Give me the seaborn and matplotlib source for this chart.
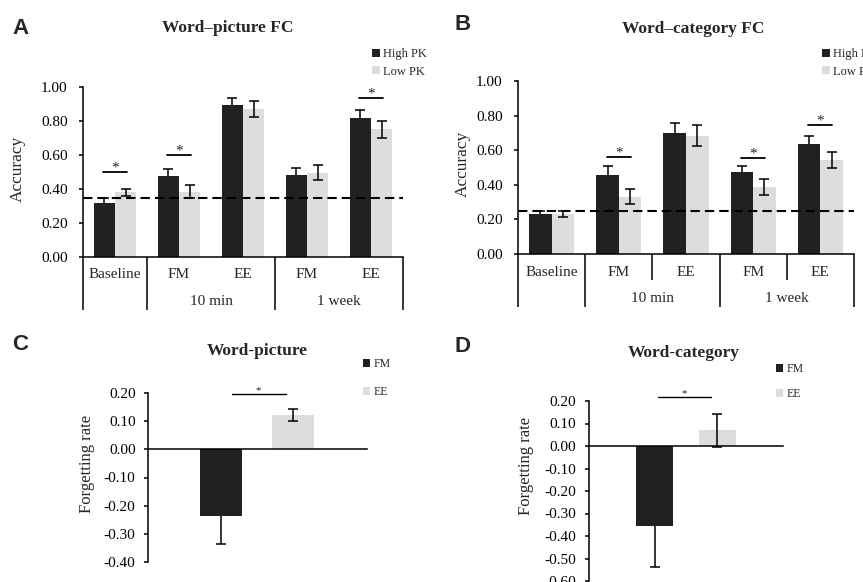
import matplotlib
matplotlib.use("Agg")
import pandas as pd
import matplotlib.pyplot as plt
import seaborn as sns

# Accuracy panels (A, B)
conditions = ["Baseline", "FM 10 min", "EE 10 min", "FM 1 week", "EE 1 week"]
condition_labels = ["Baseline", "FM", "EE", "FM", "EE"]
delay_labels = ["10 min", "1 week"]
pk_groups = ["High PK", "Low PK"]

wp_high = [0.32, 0.475, 0.895, 0.48, 0.82]
wp_high_se = [0.03, 0.045, 0.04, 0.045, 0.047]
wp_low = [0.38, 0.383, 0.87, 0.496, 0.75]
wp_low_se = [0.021, 0.038, 0.048, 0.046, 0.051]
wp_chance = 0.35
wp_sig = {0: 0.50, 1: 0.60, 4: 0.935}

wc_high = [0.231, 0.457, 0.70, 0.476, 0.636]
wc_high_se = [0.02, 0.05, 0.058, 0.035, 0.048]
wc_low = [0.232, 0.332, 0.684, 0.388, 0.545]
wc_low_se = [0.017, 0.045, 0.06, 0.046, 0.046]
wc_chance = 0.25
wc_sig = {1: 0.559, 3: 0.553, 4: 0.746}

# Forgetting-rate panels (C, D)
tests = ["FM", "EE"]
fr_picture = [-0.236, 0.121]
fr_picture_se = [0.10, 0.021]
fr_category = [-0.357, 0.070]
fr_category_se = [0.179, 0.073]

DARK = "#231f20"
LIGHT = "#dcdddf"
W, H = 863, 582

sns.set_style("ticks")
plt.rcParams["font.family"] = ["Liberation Serif", "DejaVu Serif"]
plt.rcParams["axes.unicode_minus"] = False


def px_axes(fig, left, right, top, bottom):
    return fig.add_axes([left / W, 1 - bottom / H, (right - left) / W, (bottom - top) / H])


def add_errorbars(ax, se_lists):
    # dark series error bars sit behind their bars, so only the outer half shows
    for k, (cont, se) in enumerate(zip(ax.containers, se_lists)):
        xs = [b.get_x() + b.get_width() / 2 for b in cont]
        ys = [b.get_y() + b.get_height() if b.get_y() >= 0 else b.get_y() for b in cont]
        ax.errorbar(xs, ys, yerr=se, fmt="none", ecolor="black",
                    elinewidth=1.1, capsize=3.5, capthick=1.1,
                    zorder=0.5 if k == 0 else 3)


def style_left(ax, pad):
    sns.despine(ax=ax)
    for s in ["left", "bottom"]:
        ax.spines[s].set_linewidth(1.1)
        ax.spines[s].set_color("black")
    ax.tick_params(axis="y", length=3, width=1.1, pad=pad, labelsize=11, colors="black")


def move_leg(ax, fig, x, y, spacing, size):
    sns.move_legend(ax, "upper left", bbox_to_anchor=(x / W, 1 - y / H),
                    bbox_transform=fig.transFigure, title=None, frameon=False,
                    fontsize=size, handlelength=0.6, handleheight=0.6,
                    handletextpad=0.3, labelspacing=spacing, borderpad=0,
                    borderaxespad=0)


def accuracy_panel(fig, ax, high, high_se, low, low_se, chance, sig,
                   boxes, ylab_x, leg_x):
    df = pd.DataFrame({
        "condition": conditions * 2,
        "group": [pk_groups[0]] * 5 + [pk_groups[1]] * 5,
        "accuracy": high + low,
    })
    sns.barplot(data=df, x="condition", y="accuracy", hue="group",
                order=conditions, hue_order=pk_groups, palette=[DARK, LIGHT],
                width=0.67, linewidth=0, errorbar=None, ax=ax)
    add_errorbars(ax, [high_se, low_se])
    ax.axhline(chance, color="black", lw=1.5, ls=(0, (4.5, 2.4)), zorder=4)
    for i, y in sig.items():
        ax.plot([i - 0.18, i + 0.18], [y, y], color="black", lw=1.3)
        ax.text(i, y + 0.004, "*", ha="center", va="baseline", fontsize=11)

    ax.set_xlim(-0.5, 4.5)
    ax.set_ylim(0, 1)
    ax.set_yticks([0, 0.2, 0.4, 0.6, 0.8, 1.0])
    ax.set_yticklabels([f"{v:.2f}" for v in ax.get_yticks()])
    ax.set_xticks([])
    ax.set_xlabel("")
    ax.set_ylabel("Accuracy", fontsize=12.5)
    ax.yaxis.set_label_coords(ylab_x, 0.52)
    style_left(ax, 8)

    tr = ax.get_xaxis_transform()
    for i, lab in enumerate(condition_labels):
        ax.text(i, -0.105, lab, transform=tr, ha="center", va="center", fontsize=11)
    for xc, lab in zip([1.5, 3.5], delay_labels):
        ax.text(xc, -0.26, lab, transform=tr, ha="center", va="center", fontsize=11)
    for xv, depth in boxes:
        ax.plot([xv, xv], [0, depth], transform=tr, color="black", lw=1.1,
                clip_on=False, solid_capstyle="butt")
    move_leg(ax, fig, leg_x, 48, 0.45, 9)


def forgetting_panel(fig, ax, means, se, ylim, yticks, sig_y, sig_x, star_size,
                     xlim, width, ylab_x, ylab_y, leg_x, leg_y, leg_space):
    df = pd.DataFrame({"test": tests, "rate": means})
    sns.barplot(data=df, x="test", y="rate", hue="test", hue_order=tests,
                palette=[DARK, LIGHT], width=width, linewidth=0,
                errorbar=None, legend=True, ax=ax)
    add_errorbars(ax, [[s] for s in se])
    ax.plot(sig_x, [sig_y, sig_y], color="black", lw=1.0, clip_on=False)
    ax.text(sum(sig_x) / 2, sig_y + 0.006, "*", ha="center", va="baseline",
            fontsize=star_size)

    ax.set_xlim(*xlim)
    ax.set_ylim(*ylim)
    ax.set_yticks(yticks)
    ax.set_yticklabels([f"{v:.2f}" for v in yticks])
    ax.set_xticks([])
    ax.set_xlabel("")
    ax.set_ylabel("Forgetting rate", fontsize=12)
    ax.yaxis.set_label_coords(ylab_x, ylab_y)
    style_left(ax, 6)
    ax.spines["bottom"].set_position(("data", 0))
    move_leg(ax, fig, leg_x, leg_y, leg_space, 8.5)


fig = plt.figure(figsize=(W / 100, H / 100), dpi=100)

ax_a = px_axes(fig, 83, 403, 87, 257)
accuracy_panel(fig, ax_a, wp_high, wp_high_se, wp_low, wp_low_se, wp_chance,
               wp_sig, [(-0.5, -0.312), (0.5, -0.312), (2.5, -0.312), (4.5, -0.312)],
               -0.178, 372)

ax_b = px_axes(fig, 518, 854, 81, 254)
accuracy_panel(fig, ax_b, wc_high, wc_high_se, wc_low, wc_low_se, wc_chance,
               wc_sig, [(-0.5, -0.306), (0.5, -0.306), (1.5, -0.15), (2.5, -0.306),
                        (3.5, -0.15), (4.5, -0.306)],
               -0.14, 822)

ax_c = px_axes(fig, 148, 367, 393, 562)
forgetting_panel(fig, ax_c, fr_picture, fr_picture_se, (-0.4, 0.2),
                 [0.2, 0.1, 0, -0.1, -0.2, -0.3, -0.4], 0.195, [0.15, 0.9], 8,
                 (-1.01, 2.03), 0.58, -0.242, 0.58, 363, 358, 1.38)

ax_d = px_axes(fig, 589, 783, 401, 581)
forgetting_panel(fig, ax_d, fr_category, fr_category_se, (-0.6, 0.2),
                 [0.2, 0.1, 0, -0.1, -0.2, -0.3, -0.4, -0.5, -0.6], 0.216,
                 [0.06, 0.9], 8, (-1.04, 2.04), 0.59, -0.284, 0.64, 776, 363, 1.12)

titles = [("Word\u2013picture FC", 228, 28), ("Word\u2013category FC", 693, 29),
          ("Word-picture", 257, 351), ("Word-category", 684, 353)]
for text, x, y in titles:
    fig.text(x / W, 1 - y / H, text, ha="center", va="center",
             fontsize=12.5, fontweight="bold")

letters = [("A", 12, 28), ("B", 454, 25), ("C", 12, 345), ("D", 454, 347)]
for text, x, y in letters:
    fig.text(x / W, 1 - y / H, text, ha="left", va="center", fontsize=16,
             fontweight="bold", family=["Liberation Sans", "DejaVu Sans"])

fig.savefig("out.png", dpi=100)
